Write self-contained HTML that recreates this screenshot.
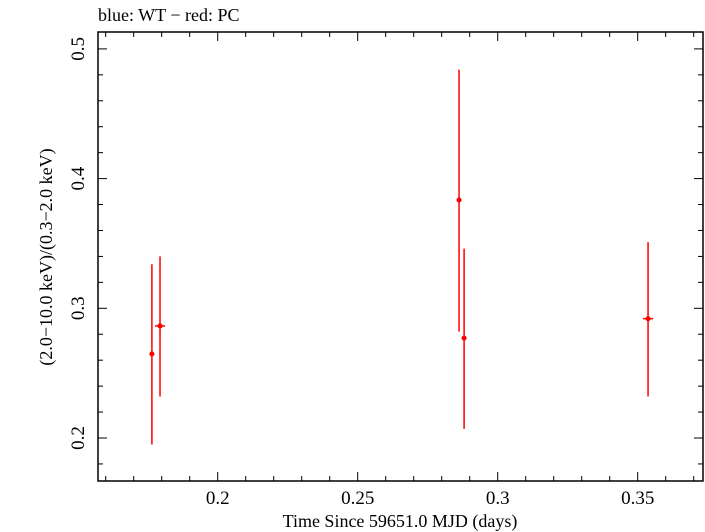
<!DOCTYPE html>
<html><head><meta charset="utf-8"><style>body{margin:0;background:#fff}svg{display:block;font-family:"Liberation Serif",serif}</style></head>
<body>
<svg width="705" height="532">
<text x="98" y="21" font-size="18">blue: WT − red: PC</text>
<g id="axes"></g>
<g id="marks"></g>
<text x="400" y="527" font-size="18" text-anchor="middle">Time Since 59651.0 MJD (days)</text>
<text transform="translate(52,257) rotate(-90)" font-size="18" text-anchor="middle">(2.0−10.0 keV)/(0.3−2.0 keV)</text>
</svg>
<script>
const xVals=[0.1765,0.1794,0.2862,0.288,0.3537];
const yVals=[0.2648,0.2864,0.3835,0.277,0.292];
const yLow=[0.195,0.232,0.282,0.207,0.232];
const yHigh=[0.334,0.340,0.484,0.346,0.351];
const xErr=[0.0008,0.0018,0.0008,0.0008,0.0018];
const xTicks=[0.2,0.25,0.3,0.35];
const yTicks=[0.2,0.3,0.4,0.5];
const L=98,R=703,T=32,B=481;
const sx=v=>217.7+(v-0.2)*2800;
const sy=v=>438-(v-0.2)*1297;
const NS="http://www.w3.org/2000/svg";
const ax=document.getElementById('axes'),mk=document.getElementById('marks');
function el(p,t,a){const e=document.createElementNS(NS,t);for(const k in a)e.setAttribute(k,a[k]);p.appendChild(e);return e;}
const fr=el(ax,'rect',{x:L,y:T,width:R-L,height:B-T,fill:'none',stroke:'#000','stroke-width':1.5});


for(let v=0.15;v<=0.375;v+=0.01){const x=sx(v);if(x<L||x>R)continue;const maj=Math.abs(v*20-Math.round(v*20))<1e-6;const len=maj?9:5;
el(ax,'line',{x1:x,x2:x,y1:B,y2:B-len,stroke:'#000'});el(ax,'line',{x1:x,x2:x,y1:T,y2:T+len,stroke:'#000'});}
for(let v=0.18;v<=0.52;v+=0.02){const y=sy(v);if(y<T||y>B)continue;const maj=Math.abs(v*10-Math.round(v*10))<1e-6;const len=maj?9:5;
el(ax,'line',{x1:L,x2:L+len,y1:y,y2:y,stroke:'#000'});el(ax,'line',{x1:R,x2:R-len,y1:y,y2:y,stroke:'#000'});}
xTicks.forEach(v=>{const t=el(ax,'text',{x:sx(v),y:504,'font-size':19,'text-anchor':'middle'});t.textContent=String(v);

});
yTicks.forEach(v=>{const t=el(ax,'text',{transform:`translate(84,${sy(v)}) rotate(-90)`,'font-size':19,'text-anchor':'middle'});t.textContent=String(v);

});
xVals.forEach((xv,i)=>{const g=el(mk,'g',{stroke:'#f00','stroke-width':1.5});


const x=sx(xv),y=sy(yVals[i]);
el(g,'line',{x1:x,x2:x,y1:sy(yLow[i]),y2:sy(yHigh[i])});
el(g,'line',{x1:sx(xv-xErr[i]),x2:sx(xv+xErr[i]),y1:y,y2:y});
el(g,'circle',{cx:x,cy:y,r:1.8,fill:'#f00'});});
</script>
</body></html>
